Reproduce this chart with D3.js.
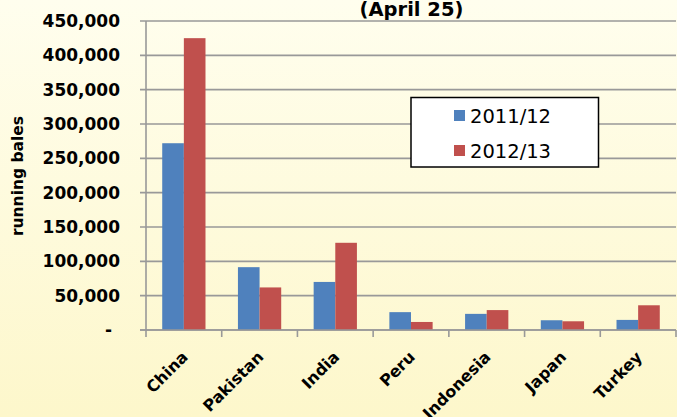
<!DOCTYPE html>
<html><head><meta charset="utf-8">
<script src="https://cdn.jsdelivr.net/npm/d3@7"></script>
<style>html,body{margin:0;padding:0;overflow:hidden;}svg{display:block;}</style>
</head><body>
<svg id="chart" width="677" height="417"></svg>
<script>
const categories = ["China","Pakistan","India","Peru","Indonesia","Japan","Turkey"];
const seriesNames = ["2011/12","2012/13"];
const values2011 = [272000, 91500, 70000, 26000, 23500, 14200, 14700];
const values2012 = [425000, 62000, 127000, 11700, 29000, 12700, 36000];
const yTicks = [0,50000,100000,150000,200000,250000,300000,350000,400000,450000];
const colors = ["#4F81BD","#C0504D"];
const title = "(April 25)";
const yLabel = "running bales";

const svg = d3.select("#chart");
const W = 677, H = 417;
const defs = svg.append("defs");
const grad = defs.append("linearGradient").attr("id","bg").attr("x1",0).attr("y1",0).attr("x2",0).attr("y2",1);
grad.append("stop").attr("offset","0%").attr("stop-color","#FFFEEE");
grad.append("stop").attr("offset","100%").attr("stop-color","#FDF7CB");
svg.append("rect").attr("width",W).attr("height",H).attr("fill","url(#bg)");

const L = 146, R = 676, T = 21, B = 330;
const x0 = d3.scaleBand().domain(categories).range([L,R]).padding(0);
const x1 = d3.scaleBand().domain(seriesNames).range([0,x0.bandwidth()]).paddingInner(0).paddingOuter(0.75);
const y = d3.scaleLinear().domain([0,450000]).range([B,T]);

const gridCol = "#999999";
svg.append("g").selectAll("line").data(yTicks).join("line")
  .attr("x1",L-6).attr("x2",R).attr("y1",d=>y(d)).attr("y2",d=>y(d))
  .attr("stroke",gridCol).attr("stroke-width",1.6);
svg.append("line").attr("x1",L).attr("x2",L).attr("y1",T).attr("y2",B)
  .attr("stroke",gridCol).attr("stroke-width",1.6);
const bounds = categories.map(c=>x0(c)).concat([R]);
svg.append("g").selectAll("line").data(bounds).join("line")
  .attr("x1",d=>d).attr("x2",d=>d).attr("y1",B).attr("y2",B+7)
  .attr("stroke",gridCol).attr("stroke-width",1.6);

const data = categories.map((c,i)=>({c, v:[values2011[i], values2012[i]]}));
const g = svg.append("g").selectAll("g").data(data).join("g")
  .attr("transform",d=>`translate(${x0(d.c)},0)`);
g.selectAll("rect").data(d=>d.v.map((v,j)=>({v,s:seriesNames[j],j}))).join("rect")
  .attr("x",d=>x1(d.s)).attr("width",x1.bandwidth())
  .attr("y",d=>y(d.v)).attr("height",d=>B-y(d.v))
  .attr("fill",d=>colors[d.j]);
svg.append("line").attr("x1",L-6).attr("x2",R).attr("y1",B).attr("y2",B)
  .attr("stroke",gridCol).attr("stroke-width",1.6);

const fmt = d3.format(",");
svg.append("g").selectAll("text").data(yTicks).join("text")
  .attr("x",d=>d===0?112:120).attr("y",d=>y(d)).attr("dy","0.36em")
  .attr("text-anchor","end")
  .attr("font-family","DejaVu Sans").attr("font-weight","bold").attr("font-size",17)
  .attr("fill","#000")
  .text(d=>d===0?"-":fmt(d));

svg.append("g").selectAll("text").data(categories).join("text")
  .attr("transform",d=>`translate(${x0(d)+x0.bandwidth()/2+5},358) rotate(-45)`)
  .attr("text-anchor","end")
  .attr("font-family","DejaVu Sans").attr("font-weight","bold").attr("font-size",16)
  .attr("fill","#000").text(d=>d);

svg.append("text").attr("transform","translate(23,176) rotate(-90)")
  .attr("text-anchor","middle")
  .attr("font-family","DejaVu Sans").attr("font-weight","bold").attr("font-size",15.5)
  .attr("fill","#000").text(yLabel);

svg.append("text").attr("x",411.5).attr("y",15.5).attr("text-anchor","middle")
  .attr("font-family","DejaVu Sans").attr("font-weight","bold").attr("font-size",19.5)
  .attr("fill","#000").text(title);

const lg = svg.append("g");
lg.append("rect").attr("x",411).attr("y",97.5).attr("width",187.5).attr("height",69.5)
  .attr("fill","#fff").attr("stroke","#000").attr("stroke-width",1.5);
const items = lg.selectAll("g").data(seriesNames).join("g")
  .attr("transform",(d,i)=>`translate(454,${110+i*35})`);
items.append("rect").attr("width",11).attr("height",11).attr("fill",(d,i)=>colors[i]);
items.append("text").attr("x",16).attr("y",13.3)
  .attr("font-family","DejaVu Sans").attr("font-size",19.5).attr("fill","#000").text(d=>d);
</script>
</body></html>
